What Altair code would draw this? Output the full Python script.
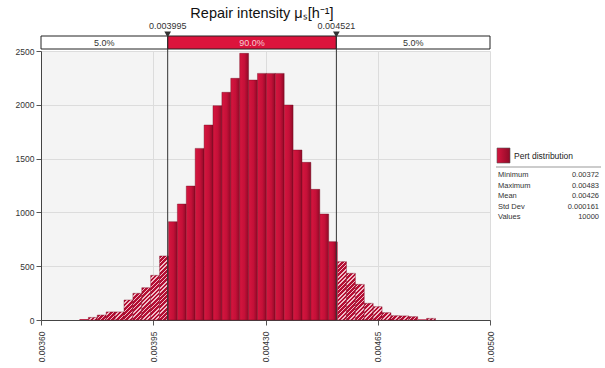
import math
import altair as alt
import numpy as np
import pandas as pd

# ---------------- data ----------------
title_text = "Repair intensity μₛ[h⁻¹]"
x_min, x_max, n_bins = 0.00372, 0.00483, 40
density = [8, 24, 46, 75, 75, 186, 248, 300, 415, 595,
           914, 1078, 1245, 1595, 1812, 1992, 2116, 2246, 2478, 2230,
           2292, 2292, 2292, 1998, 1580, 1465, 1214, 985, 728,
           542, 434, 331, 155, 124, 68, 40, 38, 31, 6, 15]
delims = [0.003995, 0.004521]
delim_labels = ["0.003995", "0.004521"]
segment_pct = ["5.0%", "90.0%", "5.0%"]
axis_lo, axis_hi = 0.00360, 0.00500
x_ticks = [0.00360, 0.00395, 0.00430, 0.00465, 0.00500]
y_max = 2500
y_ticks = [0, 500, 1000, 1500, 2000, 2500]
legend_name = "Pert distribution"
stat_names = ["Minimum", "Maximum", "Mean", "Std Dev", "Values"]
stat_values = ["0.00372", "0.00483", "0.00426", "0.000161", "10000"]

# ---------------- layout / style ----------------
W, H = 449, 269
FONT = "Liberation Sans"
RED = "#dc143c"
HATCH_RED = "#b40e34"
HATCH_LIGHT = "#f0bcc7"
sx = W / (axis_hi - axis_lo)
sy = H / y_max

edges = np.linspace(x_min, x_max, n_bins + 1)
seg_bounds = [(-1.0, delims[0], "L"), (delims[0], delims[1], "M"), (delims[1], 1.0, "R")]
rows = []
for i, d in enumerate(density):
    for lo_s, hi_s, name in seg_bounds:
        lo = max(edges[i], lo_s)
        hi = min(edges[i + 1], hi_s)
        if hi > lo:
            rows.append({"lo": lo, "hi": hi, "d": d, "seg": name})
bars = pd.DataFrame(rows)

xscale = alt.Scale(domain=[axis_lo, axis_hi], nice=False, zero=False)
yscale = alt.Scale(domain=[0, y_max], nice=False)

x_axis = alt.Axis(values=x_ticks, format=".5f", labelAngle=270, labelFontSize=8.5,
                  labelFont=FONT, labelColor="#333", tickSize=5, tickColor="#555",
                  domainColor="#444", labelPadding=6, grid=True, gridColor="#dcdcdc",
                  title=None)
y_axis = alt.Axis(values=y_ticks, format="d", labelFontSize=8.5, labelFont=FONT,
                  labelColor="#333", tickSize=5, tickColor="#555", domainColor="#444",
                  labelPadding=2, grid=True, gridColor="#dcdcdc", title=None)


def X(field):
    return alt.X(field, scale=xscale, axis=x_axis)


def Y(field):
    return alt.Y(field, scale=yscale, axis=y_axis)


mid_grad = alt.LinearGradient(
    gradient="linear",
    stops=[alt.GradientStop(color="#d6163f", offset=0),
           alt.GradientStop(color="#c41038", offset=0.55),
           alt.GradientStop(color="#8e0a27", offset=1)],
    x1=0, x2=1, y1=0, y2=0)

mid = alt.Chart(bars[bars.seg == "M"]).mark_rect(
    fill=mid_grad, stroke="#6e0a1e", strokeWidth=0.5, strokeOpacity=0.8
).encode(x=X("lo:Q"), x2="hi:Q", y=Y("d:Q"), y2=alt.datum(0))

layers = [mid]

# hatched tails
tails = bars[bars.seg != "M"]
small = []
for _, r in tails.iterrows():
    wp = (r.hi - r.lo) * sx
    hp = r.d * sy
    if wp < 2.5 or hp < 1.5:
        small.append(r)
        continue
    a = wp * (wp + hp) / (wp ** 2 + hp ** 2)
    period = 4.2
    n = (wp + hp) / period
    stops = []
    for k in range(int(math.ceil(n)) + 1):
        o0 = min(1.0, k / n)
        o1 = min(1.0, (k + 0.64) / n)
        o2 = min(1.0, (k + 1) / n)
        stops += [alt.GradientStop(color=HATCH_RED, offset=o0),
                  alt.GradientStop(color=HATCH_RED, offset=o1),
                  alt.GradientStop(color=HATCH_LIGHT, offset=o1),
                  alt.GradientStop(color=HATCH_LIGHT, offset=o2)]
    grad = alt.LinearGradient(gradient="linear", stops=stops,
                              x1=0, y1=0, x2=a, y2=a * hp / wp)
    layers.append(
        alt.Chart(pd.DataFrame([r])).mark_rect(
            fill=grad, stroke="#7a0a22", strokeWidth=0.5, strokeOpacity=0.8
        ).encode(x=X("lo:Q"), x2="hi:Q", y=Y("d:Q"), y2=alt.datum(0))
    )
if small:
    layers.append(
        alt.Chart(pd.DataFrame(small)).mark_rect(color=HATCH_RED).encode(
            x=X("lo:Q"), x2="hi:Q", y=Y("d:Q"), y2=alt.datum(0))
    )

# delimiter band
band = pd.DataFrame({
    "lo": [axis_lo, delims[0], delims[1]],
    "hi": [delims[0], delims[1], axis_hi],
    "seg": ["L", "M", "R"],
    "pct": segment_pct,
})
band["mid"] = (band.lo + band.hi) / 2
layers.append(
    alt.Chart(band).mark_rect(stroke="#222", strokeWidth=1).encode(
        x=X("lo:Q"), x2="hi:Q",
        y=alt.value(-15), y2=alt.value(-2),
        fill=alt.Color("seg:N", scale=alt.Scale(domain=["L", "M", "R"],
                                                range=["#ffffff", RED, "#ffffff"]),
                       legend=None))
)
layers.append(
    alt.Chart(band).mark_text(font=FONT, fontSize=9, baseline="middle").encode(
        x=X("mid:Q"), y=alt.value(-8.3),
        text="pct:N",
        color=alt.Color("seg:N", scale=alt.Scale(domain=["L", "M", "R"],
                                                 range=["#333333", "#f6ccd4", "#333333"]),
                        legend=None))
)

dl = pd.DataFrame({"x": delims, "label": delim_labels})
layers.append(
    alt.Chart(dl).mark_rule(color="#333", strokeWidth=1).encode(
        x=X("x:Q"), y=alt.value(-15), y2=alt.value(H))
)
layers.append(
    alt.Chart(dl).mark_point(shape="triangle-down", filled=True, size=45,
                             color="#333", opacity=1).encode(
        x=X("x:Q"), y=alt.value(-16.5))
)
layers.append(
    alt.Chart(dl).mark_text(font=FONT, fontSize=9, color="#333", baseline="middle").encode(
        x=X("x:Q"), y=alt.value(-25), text="label:N")
)

# title
layers.append(
    alt.Chart(pd.DataFrame({"t": [title_text]})).mark_text(
        font=FONT, fontSize=14.5, color="#111", baseline="alphabetic", align="center"
    ).encode(x=alt.value(221), y=alt.value(-33), text="t:N")
)

# legend box (right)
leg_grad = alt.LinearGradient(
    gradient="linear",
    stops=[alt.GradientStop(color="#d6163f", offset=0),
           alt.GradientStop(color="#8e0a27", offset=1)],
    x1=0, x2=1, y1=0, y2=0)
leg = pd.DataFrame({"name": [legend_name]})
layers.append(
    alt.Chart(leg).mark_rect(fill=leg_grad, stroke="#555", strokeWidth=0.6).encode(
        x=alt.value(456), x2=alt.value(469), y=alt.value(97), y2=alt.value(112))
)
layers.append(
    alt.Chart(leg).mark_text(font=FONT, fontSize=8.5, color="#222", align="left",
                             baseline="middle").encode(
        x=alt.value(473), y=alt.value(105), text="name:N")
)
layers.append(
    alt.Chart(leg).mark_rule(color="#999", strokeWidth=1).encode(
        x=alt.value(455), x2=alt.value(560), y=alt.value(116))
)
stats = pd.DataFrame({"names": ["\n".join(stat_names)], "vals": ["\n".join(stat_values)]})
layers.append(
    alt.Chart(stats).mark_text(font=FONT, fontSize=7.5, color="#333", align="left",
                               baseline="top", lineBreak="\n", lineHeight=10.5).encode(
        x=alt.value(457), y=alt.value(120), text="names:N")
)
layers.append(
    alt.Chart(stats).mark_text(font=FONT, fontSize=7.5, color="#333", align="right",
                               baseline="top", lineBreak="\n", lineHeight=10.5).encode(
        x=alt.value(558), y=alt.value(120), text="vals:N")
)

chart = alt.layer(*layers).properties(
    width=W, height=H,
    autosize=alt.AutoSizeParams(type="none"),
    padding={"left": 41, "top": 51, "right": 115, "bottom": 48},
    background="white",
).configure_view(fill="#f4f4f4", stroke="transparent")

chart.save("out.html", embed_options={"renderer": "svg", "actions": False})
